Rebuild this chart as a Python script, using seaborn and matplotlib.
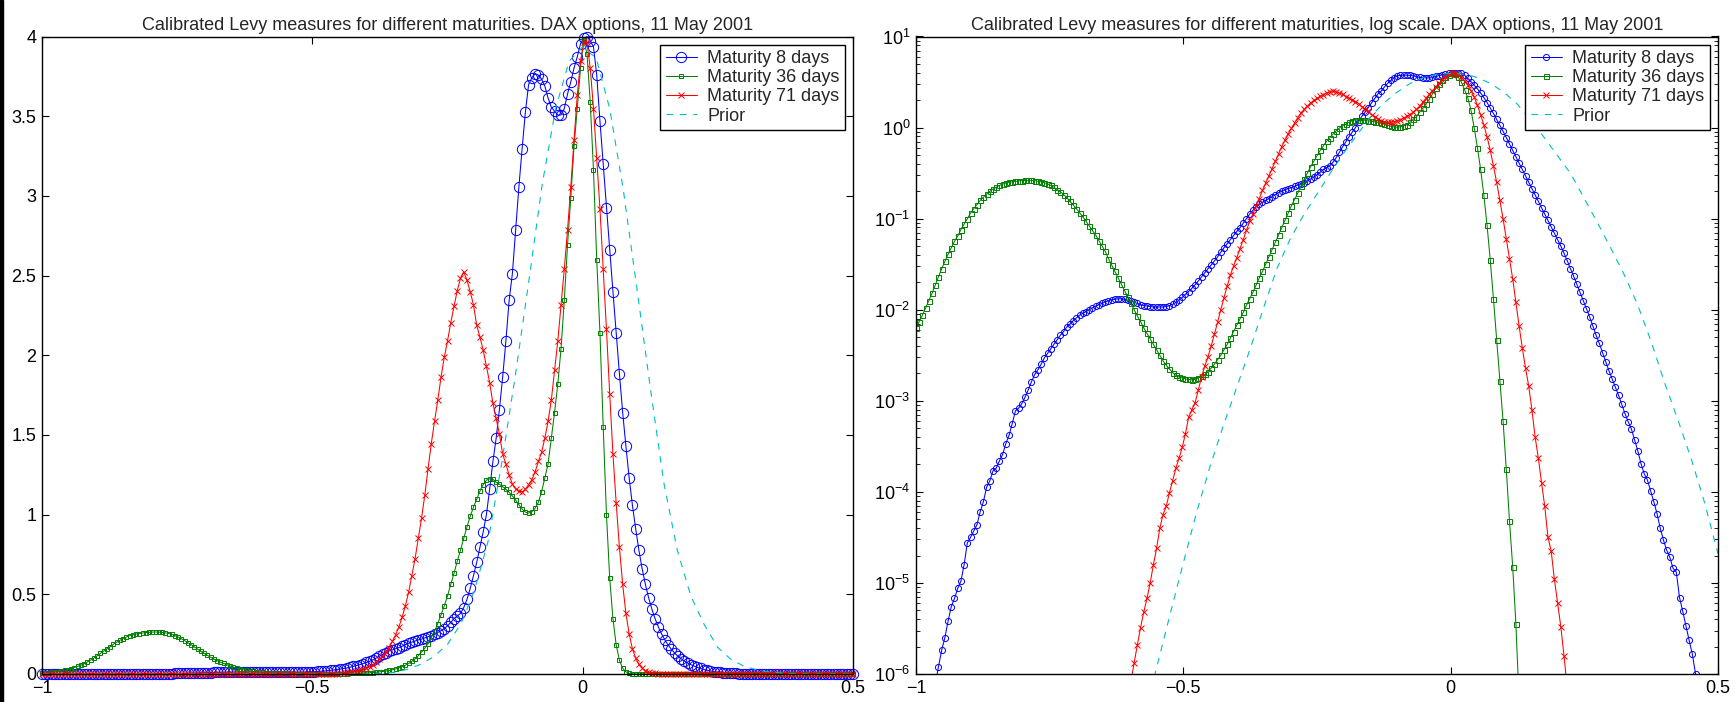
import numpy as np
import pandas as pd
import matplotlib
matplotlib.use("Agg")
import matplotlib.pyplot as plt
import seaborn as sns
from matplotlib.ticker import FuncFormatter, FixedLocator, LogLocator, NullFormatter

# ---------------- data (log10 of the Levy density) ----------------
x_grid = np.linspace(-1.0, 0.5, 251)          # step 0.006

log_m8 = [
    -7.2, -7.0, -6.8, -6.6, -6.45, -6.3, -6.12, -5.92, -5.74, -5.60,
    -5.42, -5.26, -5.17, -5.06, -4.98, -4.80, -4.56, -4.50, -4.43, -4.36,
    -4.22, -4.11, -3.95, -3.88, -3.77, -3.74, -3.66, -3.59, -3.47, -3.38,
    -3.25, -3.11, -3.08, -3.03, -2.96, -2.88, -2.79, -2.71, -2.66, -2.60,
    -2.53, -2.48, -2.43, -2.38, -2.33, -2.28, -2.24, -2.19, -2.16, -2.12,
    -2.09, -2.06, -2.04, -2.02, -2.00, -1.98, -1.96, -1.945, -1.93, -1.915,
    -1.90, -1.89, -1.885, -1.88, -1.88, -1.885, -1.895, -1.905, -1.92, -1.93,
    -1.945, -1.955, -1.96, -1.965, -1.97, -1.97, -1.97, -1.97, -1.965, -1.955,
    -1.94, -1.92, -1.895, -1.865, -1.83, -1.80, -1.765, -1.725, -1.685, -1.64,
    -1.595, -1.55, -1.51, -1.465, -1.42, -1.37, -1.32, -1.275, -1.23, -1.185,
    -1.14, -1.10, -1.05, -1.00, -0.95, -0.91, -0.87, -0.84, -0.82, -0.80,
    -0.78, -0.76, -0.735, -0.715, -0.70, -0.685, -0.67, -0.66, -0.645, -0.63,
    -0.62, -0.605, -0.585, -0.565, -0.545, -0.52, -0.49, -0.46, -0.44, -0.42,
    -0.38, -0.33, -0.27, -0.21, -0.155, -0.10, -0.05, 0.00, 0.065, 0.125,
    0.17, 0.22, 0.27, 0.32, 0.37, 0.40, 0.445, 0.485, 0.518, 0.547,
    0.568, 0.573, 0.576, 0.575, 0.572, 0.567, 0.558, 0.551, 0.548, 0.545,
    0.545, 0.55, 0.561, 0.57, 0.58, 0.588, 0.597, 0.601, 0.602, 0.599,
    0.595, 0.575, 0.54, 0.505, 0.466, 0.425, 0.38, 0.33, 0.275, 0.215,
    0.155, 0.09, 0.025, -0.04, -0.11, -0.18, -0.25, -0.32, -0.39, -0.46,
    -0.53, -0.60, -0.67, -0.74, -0.81, -0.88, -0.95, -1.02, -1.09, -1.16,
    -1.23, -1.30, -1.38, -1.46, -1.55, -1.63, -1.72, -1.81, -1.90, -1.99,
    -2.08, -2.18, -2.28, -2.37, -2.47, -2.57, -2.67, -2.76, -2.85, -2.94,
    -3.04, -3.14, -3.23, -3.31, -3.43, -3.55, -3.69, -3.80, -3.87, -3.99,
    -4.11, -4.24, -4.40, -4.53, -4.64, -4.72, -4.84, -4.88, -5.16, -5.31,
    -5.47, -5.63, -5.78, -6.0, -6.2, -6.4, -6.6, -6.8, -7.0, -7.2,
    -7.4,
]

log_m36 = [
    -2.20, -2.13, -2.06, -1.98, -1.90, -1.82, -1.73, -1.64, -1.55, -1.47,
    -1.39, -1.32, -1.25, -1.19, -1.12, -1.06, -1.00, -0.94, -0.89, -0.845,
    -0.80, -0.765, -0.73, -0.70, -0.675, -0.655, -0.635, -0.62, -0.61, -0.60,
    -0.595, -0.59, -0.585, -0.582, -0.58, -0.579, -0.58, -0.583, -0.588, -0.595,
    -0.605, -0.618, -0.635, -0.655, -0.68, -0.705, -0.735, -0.77, -0.81, -0.85,
    -0.89, -0.935, -0.98, -1.03, -1.08, -1.13, -1.18, -1.24, -1.30, -1.36,
    -1.44, -1.51, -1.58, -1.65, -1.72, -1.79, -1.86, -1.93, -2.00, -2.07,
    -2.13, -2.20, -2.26, -2.32, -2.38, -2.44, -2.50, -2.56, -2.61, -2.65,
    -2.69, -2.72, -2.74, -2.75, -2.76, -2.765, -2.77, -2.765, -2.75, -2.73,
    -2.71, -2.68, -2.64, -2.60, -2.55, -2.50, -2.44, -2.38, -2.31, -2.24,
    -2.17, -2.10, -2.03, -1.95, -1.88, -1.81, -1.73, -1.65, -1.58, -1.50,
    -1.42, -1.34, -1.26, -1.18, -1.10, -1.02, -0.94, -0.86, -0.79, -0.72,
    -0.64, -0.57, -0.50, -0.43, -0.37, -0.31, -0.25, -0.20, -0.15, -0.11,
    -0.07, -0.035, -0.005, 0.02, 0.04, 0.06, 0.075, 0.085, 0.088, 0.087,
    0.08, 0.076, 0.07, 0.064, 0.057, 0.048, 0.038, 0.026, 0.015, 0.007,
    0.004, 0.008, 0.017, 0.032, 0.058, 0.09, 0.12, 0.17, 0.215, 0.26,
    0.31, 0.37, 0.43, 0.475, 0.52, 0.55, 0.58, 0.60, 0.59, 0.555,
    0.50, 0.415, 0.33, 0.19, 0.00, -0.22, -0.46, -0.74, -1.07, -1.45,
    -1.88, -2.33, -2.78, -3.22, -3.75, -4.32, -4.82, -5.45, -6.3, -7.0,
    -7.3, -7.6, -7.9, -8.2, -8.5, -8.8, -9.1, -9.4, -9.7, -10.0,
    -10.3, -10.6, -10.9, -11.2, -11.5, -11.8, -12.1, -12.4, -12.7, -13.0,
    -13.3, -13.6, -13.9, -14.2, -14.5, -14.8, -15.1, -15.4, -15.7, -16.0,
    -16.3, -16.6, -16.9, -17.2, -17.5, -17.8, -18.1, -18.4, -18.7, -19.0,
    -19.3, -19.6, -19.9, -20.2, -20.5, -20.8, -21.1, -21.4, -21.7, -22.0,
    -22.3, -22.6, -22.9, -23.2, -23.5, -23.8, -24.1, -24.4, -24.7, -25.0,
    -25.3,
]

log_m71 = [
    -19.5, -19.3, -19.1, -18.9, -18.7, -18.5, -18.3, -18.1, -17.9, -17.7,
    -17.5, -17.3, -17.1, -16.9, -16.7, -16.5, -16.3, -16.1, -15.9, -15.7,
    -15.5, -15.3, -15.1, -14.9, -14.7, -14.5, -14.3, -14.1, -13.9, -13.7,
    -13.5, -13.3, -13.1, -12.9, -12.7, -12.5, -12.3, -12.1, -11.9, -11.7,
    -11.5, -11.3, -11.1, -10.9, -10.7, -10.5, -10.3, -10.1, -9.9, -9.7,
    -9.5, -9.3, -9.1, -8.9, -8.7, -8.5, -8.3, -8.1, -7.9, -7.7,
    -7.5, -7.3, -7.1, -6.9, -6.7, -6.5, -6.3, -6.08, -5.88, -5.68,
    -5.49, -5.32, -5.17, -5.00, -4.80, -4.62, -4.40, -4.25, -4.16, -4.01,
    -3.88, -3.74, -3.63, -3.51, -3.36, -3.18, -3.10, -3.02, -2.88, -2.74,
    -2.62, -2.52, -2.40, -2.27, -2.14, -2.00, -1.87, -1.74, -1.62, -1.52,
    -1.43, -1.33, -1.23, -1.13, -1.03, -0.95, -0.86, -0.78, -0.69, -0.61,
    -0.53, -0.45, -0.37, -0.29, -0.21, -0.14, -0.07, -0.01, 0.05, 0.11,
    0.16, 0.20, 0.235, 0.27, 0.298, 0.32, 0.343, 0.363, 0.381, 0.395,
    0.402, 0.393, 0.38, 0.365, 0.34, 0.325, 0.308, 0.286, 0.262, 0.23,
    0.205, 0.178, 0.14, 0.12, 0.096, 0.076, 0.065, 0.06, 0.058, 0.064,
    0.075, 0.086, 0.103, 0.125, 0.143, 0.17, 0.20, 0.235, 0.28, 0.32,
    0.365, 0.405, 0.445, 0.485, 0.525, 0.56, 0.585, 0.598, 0.598, 0.58,
    0.55, 0.51, 0.465, 0.405, 0.335, 0.245, 0.14, 0.03, -0.10, -0.25,
    -0.42, -0.60, -0.80, -1.00, -1.22, -1.44, -1.66, -1.92, -2.18, -2.42,
    -2.64, -2.84, -3.10, -3.40, -3.63, -3.90, -4.16, -4.50, -4.65, -4.96,
    -5.22, -5.48, -5.80, -6.15, -6.5, -6.85, -7.2, -7.5, -7.8, -8.1,
    -8.4, -8.7, -9.0, -9.3, -9.6, -9.9, -10.2, -10.5, -10.8, -11.1,
    -11.4, -11.7, -12.0, -12.3, -12.6, -12.9, -13.2, -13.5, -13.8, -14.1,
    -14.4, -14.7, -15.0, -15.3, -15.6, -15.9, -16.2, -16.5, -16.8, -17.1,
    -17.4, -17.7, -18.0, -18.3, -18.6, -18.9, -19.2, -19.5, -19.8, -20.1,
    -20.4,
]

prior_x = np.linspace(-1.0, 0.5, 61)            # step 0.025
log_prior = [
    -20.0, -19.0, -18.1, -17.2, -16.3, -15.4, -14.6, -13.8, -13.0, -12.2,
    -11.4, -10.6, -9.9, -9.2, -8.5, -7.8, -7.2,
    -6.50, -5.93, -5.35, -4.78, -4.22, -3.72, -3.27, -2.85, -2.43, -1.98,
    -1.55, -1.22, -0.96, -0.73, -0.50, -0.28, -0.08, 0.12, 0.27, 0.39,
    0.487, 0.55, 0.585, 0.595, 0.587, 0.55, 0.483, 0.385, 0.255, 0.08,
    -0.11, -0.31, -0.51, -0.78, -1.05, -1.33, -1.62, -1.95, -2.35, -2.80,
    -3.21, -3.64, -4.12, -4.68,
]

labels = ["Maturity 8 days", "Maturity 36 days", "Maturity 71 days", "Prior"]
titles = ["Calibrated Levy measures for different maturities. DAX options, 11 May 2001",
          "Calibrated Levy measures for different maturities, log scale. DAX options, 11 May 2001"]
x_ticks = [-1, -0.5, 0, 0.5]
y_ticks_lin = [0, 0.5, 1, 1.5, 2, 2.5, 3, 3.5, 4]

# ---------------- styling ----------------
sns.set_theme(style="white")
plt.rcParams["font.family"] = ["Liberation Sans", "DejaVu Sans"]
plt.rcParams["mathtext.default"] = "regular"
plt.rcParams["axes.edgecolor"] = "black"
plt.rcParams["axes.linewidth"] = 1.0
plt.rcParams["xtick.color"] = "black"
plt.rcParams["ytick.color"] = "black"

FS = 13
W, H = 1735, 702
fig = plt.figure(figsize=(W / 100, H / 100), dpi=100)
fig.patch.set_facecolor("white")
axL = fig.add_axes([42 / W, (H - 674) / H, 811 / W, 637.5 / H])
axR = fig.add_axes([916 / W, (H - 674) / H, 802 / W, 637.5 / H])

colors = ["#0000ff", "#008000", "#ff0000"]
markers = ["o", "s", "x"]
ms_lin = [7.4, 3.0, 4.2]
ms_log = [4.4, 3.6, 4.2]
series = [log_m8, log_m36, log_m71]


def minus_fmt(v, pos):
    return f"{v:g}".replace("-", "\u2212")


for ax, msizes, is_log in [(axL, ms_lin, False), (axR, ms_log, True)]:
    for lab, lg, col, mk, ms in zip(labels[:3], series, colors, markers, msizes):
        df = pd.DataFrame({"x": x_grid, "v": np.power(10.0, np.array(lg))})
        sns.lineplot(data=df, x="x", y="v", ax=ax, color=col, label=lab,
                     marker=mk, markersize=ms, markerfacecolor="none",
                     markeredgecolor=col, markeredgewidth=0.7, linewidth=0.75,
                     sort=False, estimator=None, clip_on=is_log)
    dfp = pd.DataFrame({"x": prior_x, "v": np.power(10.0, np.array(log_prior))})
    sns.lineplot(data=dfp, x="x", y="v", ax=ax, color="#00bfbf", label=labels[3],
                 linestyle=(0, (6, 6)), linewidth=0.8, sort=False, estimator=None)

    ax.set_xlim(-1, 0.5)
    ax.xaxis.set_major_locator(FixedLocator(x_ticks))
    ax.xaxis.set_major_formatter(FuncFormatter(minus_fmt))
    ax.set_xlabel("")
    ax.set_ylabel("")
    ax.tick_params(axis="both", which="major", direction="in", length=5, width=0.8,
                   top=True, right=True, bottom=True, left=True, labelsize=FS, pad=4)
    for s in ax.spines.values():
        s.set_color("black")
        s.set_linewidth(1.0)
    ax.legend(loc="upper right", fontsize=FS, frameon=True, fancybox=False,
              edgecolor="black", framealpha=1, borderpad=0.3, labelspacing=0.12,
              handlelength=1.75, handletextpad=0.55, borderaxespad=0.45)
    ax.get_legend().get_frame().set_linewidth(1.0)

axL.set_ylim(0, 4)
axL.yaxis.set_major_locator(FixedLocator(y_ticks_lin))
axL.yaxis.set_major_formatter(FuncFormatter(minus_fmt))
axL.set_title(titles[0], fontsize=FS, pad=5)

axR.set_yscale("log")
axR.set_ylim(1e-6, 10)
axR.yaxis.set_major_locator(LogLocator(base=10, numticks=20))
axR.yaxis.set_minor_locator(LogLocator(base=10, subs=np.arange(2, 10), numticks=20))
axR.yaxis.set_minor_formatter(NullFormatter())
axR.tick_params(axis="y", which="minor", direction="in", length=2.8, width=0.6,
                left=True, right=True)
axR.set_title(titles[1], fontsize=FS, pad=5)

fig.add_artist(plt.Rectangle((0, 0), 2.5 / W, 1, transform=fig.transFigure,
                             color="black", zorder=10))

fig.savefig("out.png", dpi=100, facecolor="white")
